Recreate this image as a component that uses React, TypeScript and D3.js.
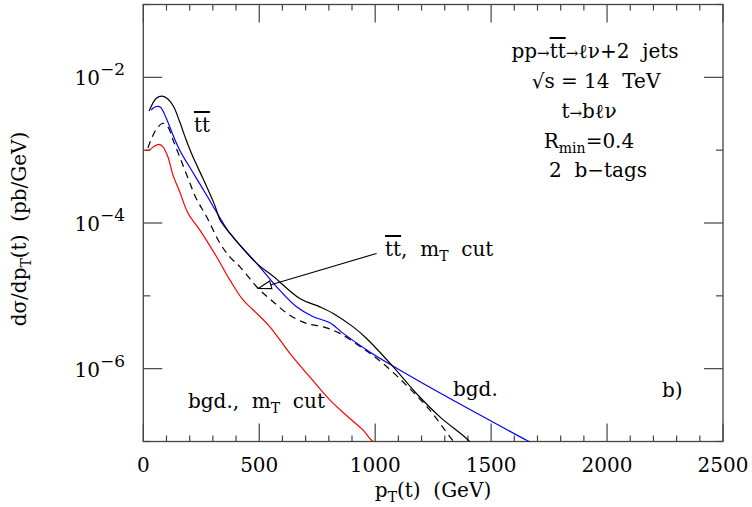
import React from "react";
import * as d3 from "d3";

// p_T(t) in GeV, dσ/dp_T in pb/GeV
const ttX = [25, 56, 81, 106, 131, 157, 185, 214, 257, 308, 331, 374, 489, 560, 675, 762, 819, 905, 963, 1078, 1178, 1279, 1394, 1420];
const ttY = [3.44e-3, 5.15e-3, 5.53e-3, 5.04e-3, 3.94e-3, 2.45e-3, 1.38e-3, 8.1e-4, 4.1e-4, 1.76e-4, 1.1e-4, 7.2e-5, 2.79e-5, 1.86e-5, 9.2e-6, 7.06e-6, 5.73e-6, 3.75e-6, 2.6e-6, 1.06e-6, 4.56e-7, 2.18e-7, 1.1e-7, 8.9e-8];

const bgdX = [34, 52, 73, 99, 128, 157, 214, 272, 315, 374, 489, 575, 661, 733, 805, 862, 977, 1078, 1207, 1336, 1494, 1653, 1670];
const bgdY = [3.56e-3, 3.94e-3, 3.91e-3, 2.74e-3, 1.61e-3, 1.0e-3, 4.94e-4, 2.44e-4, 1.43e-4, 7.2e-5, 2.79e-5, 1.33e-5, 7.06e-6, 5.15e-6, 4.26e-6, 3.05e-6, 1.7e-6, 1.08e-6, 6.27e-7, 3.69e-7, 1.96e-7, 1.04e-7, 9.8e-8];

const ttCutX = [20, 37, 59, 85, 106, 128, 157, 193, 228, 273, 331, 374, 417, 496, 560, 632, 704, 776, 848, 948, 1034, 1135, 1236, 1322, 1345];
const ttCutY = [1.07e-3, 1.48e-3, 2.0e-3, 2.34e-3, 2.09e-3, 1.38e-3, 8.1e-4, 4.1e-4, 2.18e-4, 1.22e-4, 5.25e-5, 3.4e-5, 2.5e-5, 1.26e-5, 8.3e-6, 5.4e-6, 4.18e-6, 3.75e-6, 3.05e-6, 1.89e-6, 1.18e-6, 5.9e-7, 2.69e-7, 1.16e-7, 9.5e-8];

const bgdCutX = [10, 25, 45, 68, 85, 106, 128, 157, 193, 244, 316, 374, 431, 474, 546, 632, 718, 805, 891, 948, 984, 1005];
const bgdCutY = [1.0e-3, 1.0e-3, 1.12e-3, 1.2e-3, 1.11e-3, 8.1e-4, 4.55e-4, 2.69e-4, 1.36e-4, 8.0e-5, 3.44e-5, 1.64e-5, 8.7e-6, 6.4e-6, 3.75e-6, 1.62e-6, 7.7e-7, 3.7e-7, 2.07e-7, 1.43e-7, 1.04e-7, 9.3e-8];

const xTicks = [0, 500, 1000, 1500, 2000, 2500];
const yLabelExps = [-2, -4, -6];

const FONT = "'DejaVu Serif', serif";
const W = 752;
const H = 507;
const L = 143.3, R = 723, T = 4.5, B = 441.5;
const SP = "\u00a0";

export default function App() {
  const x = d3.scaleLinear().domain([0, 2500]).range([L, R]);
  const y = d3.scaleLog().domain([1e-7, 1e-1]).range([B, T]);

  const path = (xs: number[], ys: number[]) =>
    d3
      .line<number>()
      .x((d) => x(d))
      .y((d, i) => y(ys[i]))
      .curve(d3.curveCatmullRom.alpha(0.5))(xs) || "";

  const minorX = d3.range(0, 2501, 100);
  const decades = d3.range(-7, 0);

  // arrow for "tt, mT cut"
  const tip = [x(496), y(1.26e-5)];
  const tail = [x(1006), y(3.82e-5)];
  const dx = tail[0] - tip[0], dy = tail[1] - tip[1];
  const len = Math.hypot(dx, dy);
  const ux = dx / len, uy = dy / len;
  const bx = tip[0] + ux * 13, by = tip[1] + uy * 13;
  const head = `M${bx + uy * 4},${by - ux * 4}L${tip[0]},${tip[1]}L${bx - uy * 4},${by + ux * 4}Z`;

  return (
    <svg width={W} height={H} style={{ position: "absolute", left: 0, top: 0, background: "#fff" }} fontFamily={FONT}>
      <defs>
        <clipPath id="plot">
          <rect x={L} y={T} width={R - L} height={B - T} />
        </clipPath>
      </defs>

      {/* frame and ticks */}
      <rect x={L} y={T} width={R - L} height={B - T} fill="none" stroke="#444" strokeWidth={1.3} />
      {minorX.map((v) => {
        const len = v % 500 === 0 ? 18 : 6;
        return (
          <g key={"xt" + v} stroke="#444" strokeWidth={1.2}>
            <line x1={x(v)} x2={x(v)} y1={B} y2={B - len} />
            <line x1={x(v)} x2={x(v)} y1={T} y2={T + len} />
          </g>
        );
      })}
      {decades.map((e) => {
        const len = e % 2 === 0 ? 19 : 7;
        const py = y(Math.pow(10, e));
        return (
          <g key={"yt" + e} stroke="#444" strokeWidth={1.2}>
            <line x1={L} x2={L + len} y1={py} y2={py} />
            <line x1={R} x2={R - len} y1={py} y2={py} />
          </g>
        );
      })}

      {/* tick labels */}
      {xTicks.map((v) => (
        <text key={"xl" + v} x={x(v)} y={472} textAnchor="middle" fontSize={20}>
          {v}
        </text>
      ))}
      {yLabelExps.map((e) => (
        <text key={"yl" + e} x={125} y={y(Math.pow(10, e)) + 8} textAnchor="end" fontSize={20}>
          10
          <tspan dy={-10} fontSize={17}>
            {"\u2212" + Math.abs(e)}
          </tspan>
        </text>
      ))}

      {/* axis titles */}
      <text x={433} y={497} textAnchor="middle" fontSize={20}>
        p<tspan fontSize={14} dy={5}>T</tspan>
        <tspan dy={-5}>{"(t)" + SP + SP + "(GeV)"}</tspan>
      </text>
      <text transform="translate(26,229) rotate(-90)" textAnchor="middle" fontSize={20}>
        dσ/dp<tspan fontSize={14} dy={5}>T</tspan>
        <tspan dy={-5}>{"(t)" + SP + SP + "(pb/GeV)"}</tspan>
      </text>

      {/* curves */}
      <g clipPath="url(#plot)" fill="none" strokeWidth={1.2}>
        <path d={path(bgdCutX, bgdCutY)} stroke="#ff0000" />
        <path d={path(ttCutX, ttCutY)} stroke="#000" strokeDasharray="7,5" />
        <path d={path(bgdX, bgdY)} stroke="#0000ff" />
        <path d={path(ttX, ttY)} stroke="#000" />
      </g>

      {/* annotations */}
      <line x1={tail[0]} y1={tail[1]} x2={tip[0]} y2={tip[1]} stroke="#000" strokeWidth={1.1} />
      <path d={head} fill="#fff" stroke="#000" strokeWidth={1.1} />

      <text x={194} y={132} fontSize={20}>
        <tspan style={{ textDecoration: "overline" }}>tt</tspan>
      </text>
      <text x={385} y={256} fontSize={20}>
        <tspan style={{ textDecoration: "overline" }}>tt</tspan>
        {"," + SP + SP + "m"}
        <tspan fontSize={14} dy={5}>T</tspan>
        <tspan dy={-5}>{SP + SP + "cut"}</tspan>
      </text>
      <text x={453} y={396} fontSize={20}>bgd.</text>
      <text x={188} y={408} fontSize={20}>
        {"bgd.," + SP + SP + "m"}
        <tspan fontSize={14} dy={5}>T</tspan>
        <tspan dy={-5}>{SP + SP + "cut"}</tspan>
      </text>
      <text x={662} y={397} fontSize={20}>b)</text>

      <g textAnchor="middle" fontSize={20}>
        <text x={595} y={58}>
          pp<tspan fontSize={15}>→</tspan>
          <tspan style={{ textDecoration: "overline" }}>tt</tspan>
          <tspan fontSize={15}>→</tspan>
          {"ℓν+2" + SP + SP + "jets"}
        </text>
        <text x={596} y={88}>{"√s" + SP + "=" + SP + "14" + SP + SP + "TeV"}</text>
        <text x={589} y={118}>
          t<tspan fontSize={15}>→</tspan>bℓν
        </text>
        <text x={589} y={148}>
          R<tspan fontSize={14} dy={5}>min</tspan>
          <tspan dy={-5}>=0.4</tspan>
        </text>
        <text x={598} y={177}>{"2" + SP + SP + "b−tags"}</text>
      </g>
    </svg>
  );
}
